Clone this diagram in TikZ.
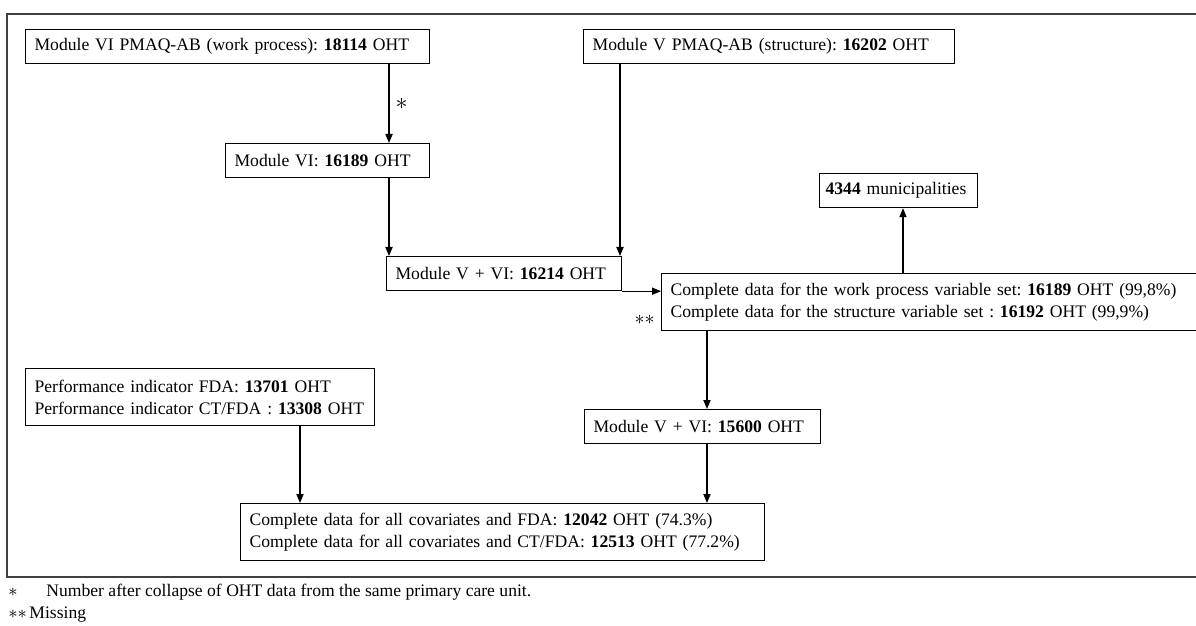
\documentclass[tikz,border=0pt]{standalone}
\usepackage{fontspec}
\setmainfont{Liberation Serif}
\usetikzlibrary{arrows.meta, positioning}

\newcommand{\boxfont}{\fontsize{8.8pt}{11pt}\selectfont\frenchspacing\hyphenpenalty=10000\relax}

\begin{document}
\begin{tikzpicture}[
        x=0.5pt, y=-0.5pt,
        block/.style={
          rectangle,
          draw,
          line width=0.6pt,
          align=left,
          anchor=north west,
          inner xsep=4.5pt,
          inner ysep=0pt,
          minimum height=17pt,
          font=\boxfont
        },
        tall/.style={minimum height=28.5pt},
        line/.style={-{Triangle[length=4.5pt,width=3.6pt]}, line width=0.6pt},
        note/.style={
          anchor=west,
          inner sep=0pt,
          font=\boxfont
        }
    ]

    \clip (0,0) rectangle (1196,626);

    % Outer frame
    \draw[line width=0.9pt, black!75] (7,14) rectangle (1212,577);

    % Define the nodes
    \node[block, text width=193pt] (modVI) at (25,29) {Module VI PMAQ-AB (work process): \textbf{18114} OHT};
    \node[block, text width=93pt] (modVIone) at (225,143) {Module VI: \textbf{16189} OHT};
    \node[block, text width=176.5pt] (modV) at (583,29) {Module V PMAQ-AB (structure): \textbf{16202} OHT};
    \node[block, text width=108.5pt] (merged) at (386,256) {Module V + VI: \textbf{16214} OHT};
    \node[block, tall, text width=265.5pt] (complete) at (661,273) {Complete data for the work process variable set: \textbf{16189} OHT (99,8\%)\\
      Complete data for the structure variable set : \textbf{16192} OHT (99,9\%)};
    \node[block, inner xsep=3pt, text width=73pt] (municip) at (819,173) {\textbf{4344} municipalities};
    \node[block, text width=109pt] (mergedNew) at (584,409) {Module V + VI: \textbf{15600} OHT};
    \node[block, tall, text width=165.5pt] (indicators) at (25,368) {Performance indicator FDA: \textbf{13701} OHT\\
      Performance indicator CT/FDA : \textbf{13308} OHT};
    \node[block, tall, text width=253pt] (final) at (240,503) {Complete data for all covariates and FDA: \textbf{12042} OHT (74.3\%)\\
      Complete data for all covariates and CT/FDA: \textbf{12513} OHT (77.2\%)};

    % Columns of the connectors
    \coordinate (colVI) at (389,0);
    \coordinate (colV) at (620,0);
    \coordinate (colMun) at (903,0);
    \coordinate (colMid) at (707,0);
    \coordinate (colInd) at (300,0);

    % Connect the nodes
    \draw[line] (modVI.south -| colVI) -- node[right, inner sep=3pt] (collapse) {\large$\ast$} (modVIone.north -| colVI);
    \draw[line] (modVIone.south -| colVI) -- (merged.north -| colVI);
    \draw[line] (modV.south -| colV) -- (merged.north -| colV);
    \draw[line] (merged.south east) -- (merged.south east -| complete.west);
    \draw[line] (complete.north -| colMun) -- (municip.south -| colMun);
    \draw[line] (complete.south -| colMid) -- (mergedNew.north -| colMid);
    \draw[line] (mergedNew.south -| colMid) -- (final.north -| colMid);
    \draw[line] (indicators.south -| colInd) -- (final.north -| colInd);

    % Missing mark
    \node[anchor=east, inner sep=3pt] (missing) at ([yshift=-8.75pt]complete.west) {$\ast\ast$};

    % Footnotes
    \node[note] (noteA) at (8,592) {\makebox[19pt][l]{$\ast$}Number after collapse of OHT data from the same primary care unit.};
    \node[note] (noteB) at (8,615) {\makebox[10.5pt][l]{$\ast\ast$}Missing};

    \end{tikzpicture}
\end{document}
